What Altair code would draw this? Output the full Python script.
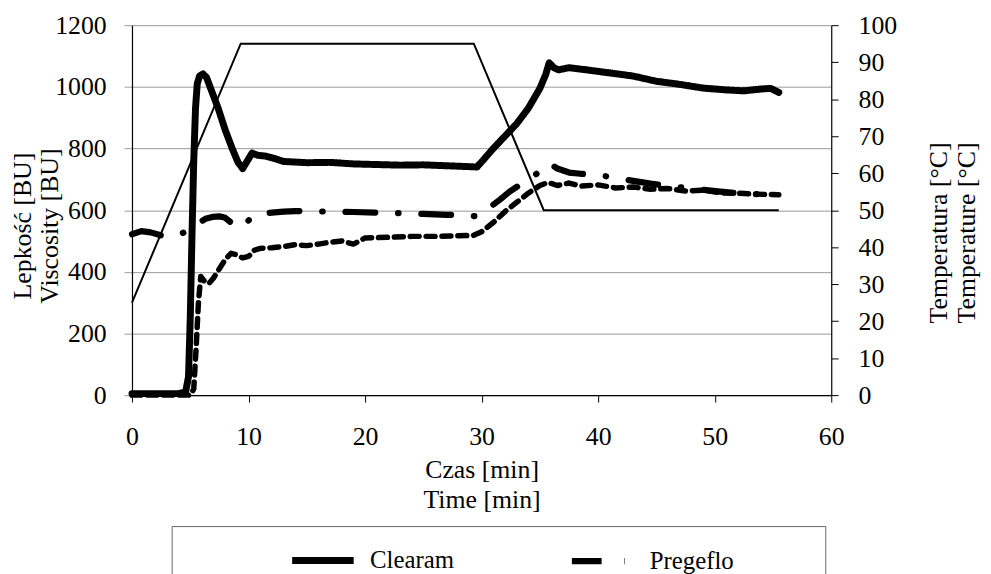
import altair as alt
import pandas as pd

# ---- data ----
clearam_t = [0, 2, 4, 4.6, 4.85, 5.0, 5.15, 5.3, 5.45, 5.6, 5.8, 6.1, 6.4, 6.8, 7.4, 8.0, 8.6, 9.1, 9.5,
             9.9, 10.3, 10.8, 11.5, 12.2, 13, 14, 15, 17, 19, 21, 23, 25, 27, 29, 29.6, 30.2, 31, 32, 33,
             34, 35, 35.5, 35.8, 36.2, 36.6, 37.5, 39, 41, 43, 45, 47, 49, 51, 52.5, 54, 54.8, 55.5]
clearam_v = [5, 5, 5, 10, 60, 250, 520, 760, 930, 1010, 1035, 1042, 1030, 990, 930, 860, 800, 755, 735,
             760, 785, 778, 775, 768, 758, 756, 754, 755, 750, 748, 746, 747, 744, 741, 740, 765, 800, 840, 880,
             930, 995, 1040, 1078, 1062, 1055, 1062, 1055, 1045, 1035, 1018, 1008, 996, 990, 987, 993, 995, 982]

pregeflo_t = [0, 0.8, 1.6, 2.5, 3.3, 4.0, 4.7, 5.3, 5.8, 6.3, 6.9, 7.5, 8.0, 8.5, 9.0, 9.5, 10.2, 11, 12,
              13, 14, 15, 17, 19, 21, 23, 25, 27, 29, 29.5, 30, 30.8, 31.6, 32.4, 33.2, 34, 34.8, 35.5, 35.8,
              36.5, 37.5, 38.5, 40, 41.5, 43, 44.5, 46, 47.5, 49, 50.5, 52, 53.5, 55.5]
pregeflo_v = [522, 532, 528, 518, 515, 520, 532, 545, 560, 572, 578, 580, 575, 560, 548, 545, 575, 588, 592,
              595, 597, 597, 595, 594, 592, 590, 588, 585, 582, 580, 598, 612, 635, 660, 680, 700, 720, 740, 752,
              735, 722, 718, 714, 705, 695, 686, 679, 672, 666, 660, 655, 652, 650]

third_t = [0, 3, 5.0, 5.3, 5.5, 5.7, 5.9, 6.2, 6.6, 7.0, 7.5, 8.0, 8.5, 9.0, 9.5, 10, 10.5, 11, 12, 13, 14,
           15, 16, 17, 18, 19, 20, 22, 24, 26, 28, 29.3, 30, 31, 32, 33, 34, 35, 35.7, 36.5, 37.5, 38.5, 40,
           41.5, 43, 44.5, 46, 47.5, 49, 50.5, 52, 53.5, 55.5]
third_v = [0, 0, 0, 20, 150, 300, 385, 370, 362, 380, 410, 440, 460, 455, 445, 450, 470, 476, 478, 482, 488,
           485, 490, 496, 500, 490, 510, 512, 515, 515, 517, 518, 530, 560, 595, 625, 655, 680, 690, 680, 688,
           678, 682, 672, 675, 668, 670, 662, 665, 656, 655, 652, 650]

temp_t = [0, 9.33, 29.33, 35.33, 55.5]
temp_v = [25, 95, 95, 50, 50]

series_names = ["Clearam", "Pregeflo", "Seria 3"]

rows = []
for name, ts, vs in zip(series_names, [clearam_t, pregeflo_t, third_t], [clearam_v, pregeflo_v, third_v]):
    for t, v in zip(ts, vs):
        rows.append({"series": name, "t": t, "v": v})
visc = pd.DataFrame(rows)
temp = pd.DataFrame({"t": temp_t, "temp": temp_v})

FONT = "Liberation Serif, Times New Roman, Tinos, DejaVu Serif, serif"
BLANK = "\u2800"

x_enc = alt.X("t:Q", scale=alt.Scale(domain=[0, 60], nice=False),
              axis=alt.Axis(values=[0, 10, 20, 30, 40, 50, 60], title=["Czas [min]", "Time [min]"],
                            grid=False, domainColor="black", tickColor="black", tickSize=7,
                            labelPadding=22, labelFlush=False, titlePadding=7, titleLineHeight=30,
                            format="d"))

legend = alt.Legend(values=["Clearam", "Pregeflo"], orient="none", legendX=40, legendY=505,
                    direction="horizontal", title="\u00a0", titleOrient="left", titlePadding=118,
                    titleFont=FONT, titleFontSize=25,
                    strokeColor="#666666", padding=0, symbolType="stroke", symbolSize=3844,
                    symbolStrokeColor="black", labelFont=FONT, labelFontSize=25, labelColor="black",
                    labelOffset=13, columnPadding=106, labelLimit=600,
                    labelExpr="datum.label == 'Pregeflo' ? 'Pregeflo' + '" + BLANK * 5 + "' : datum.label")

visc_layer = alt.Chart(visc).mark_line(color="black", strokeCap="round", strokeJoin="round").encode(
    x=x_enc,
    y=alt.Y("v:Q", scale=alt.Scale(domain=[0, 1200], nice=False),
            axis=alt.Axis(values=list(range(0, 1201, 200)), title=["Lepkość [BU]", "Viscosity [BU]"],
                          grid=True, gridColor="#9a9a9a", domainColor="black", tickColor="#9a9a9a",
                          tickSize=8, labelPadding=18, titlePadding=-8, titleLineHeight=27,
                          titleY=202, format="d")),
    strokeDash=alt.StrokeDash("series:N", scale=alt.Scale(domain=series_names,
                                                          range=[[1, 0], [30, 23, 0.5, 23], [9, 7]]),
                              legend=legend),
    strokeWidth=alt.StrokeWidth("series:N", scale=alt.Scale(domain=series_names, range=[7, 5.5, 1.6]),
                                legend=legend),
    detail="series:N",
)

temp_layer = alt.Chart(temp).mark_line(color="black", strokeWidth=2).encode(
    x=x_enc,
    y=alt.Y("temp:Q", scale=alt.Scale(domain=[0, 100], nice=False),
            axis=alt.Axis(orient="right", values=list(range(0, 101, 10)),
                          title=["Temperatura [°C]", "Temperature [°C]"], grid=False,
                          domainColor="black", tickColor="black", tickSize=7, labelPadding=20,
                          titlePadding=27, titleAngle=270, titleLineHeight=28, titleY=209,
                          format="d")),
)

chart = alt.layer(temp_layer, visc_layer).resolve_scale(y="independent").properties(
    width=705, height=373,
    padding={"left": 125, "top": 15, "right": 153, "bottom": 178},
    autosize=alt.AutoSizeParams(type="none"),
).configure_view(stroke=None).configure_axis(
    labelFont=FONT, labelFontSize=26, labelColor="black",
    titleFont=FONT, titleFontSize=26, titleColor="black", titleFontWeight="normal",
    domainWidth=1.2,
)

chart.save("out.html", embed_options={"renderer": "svg", "actions": False})
